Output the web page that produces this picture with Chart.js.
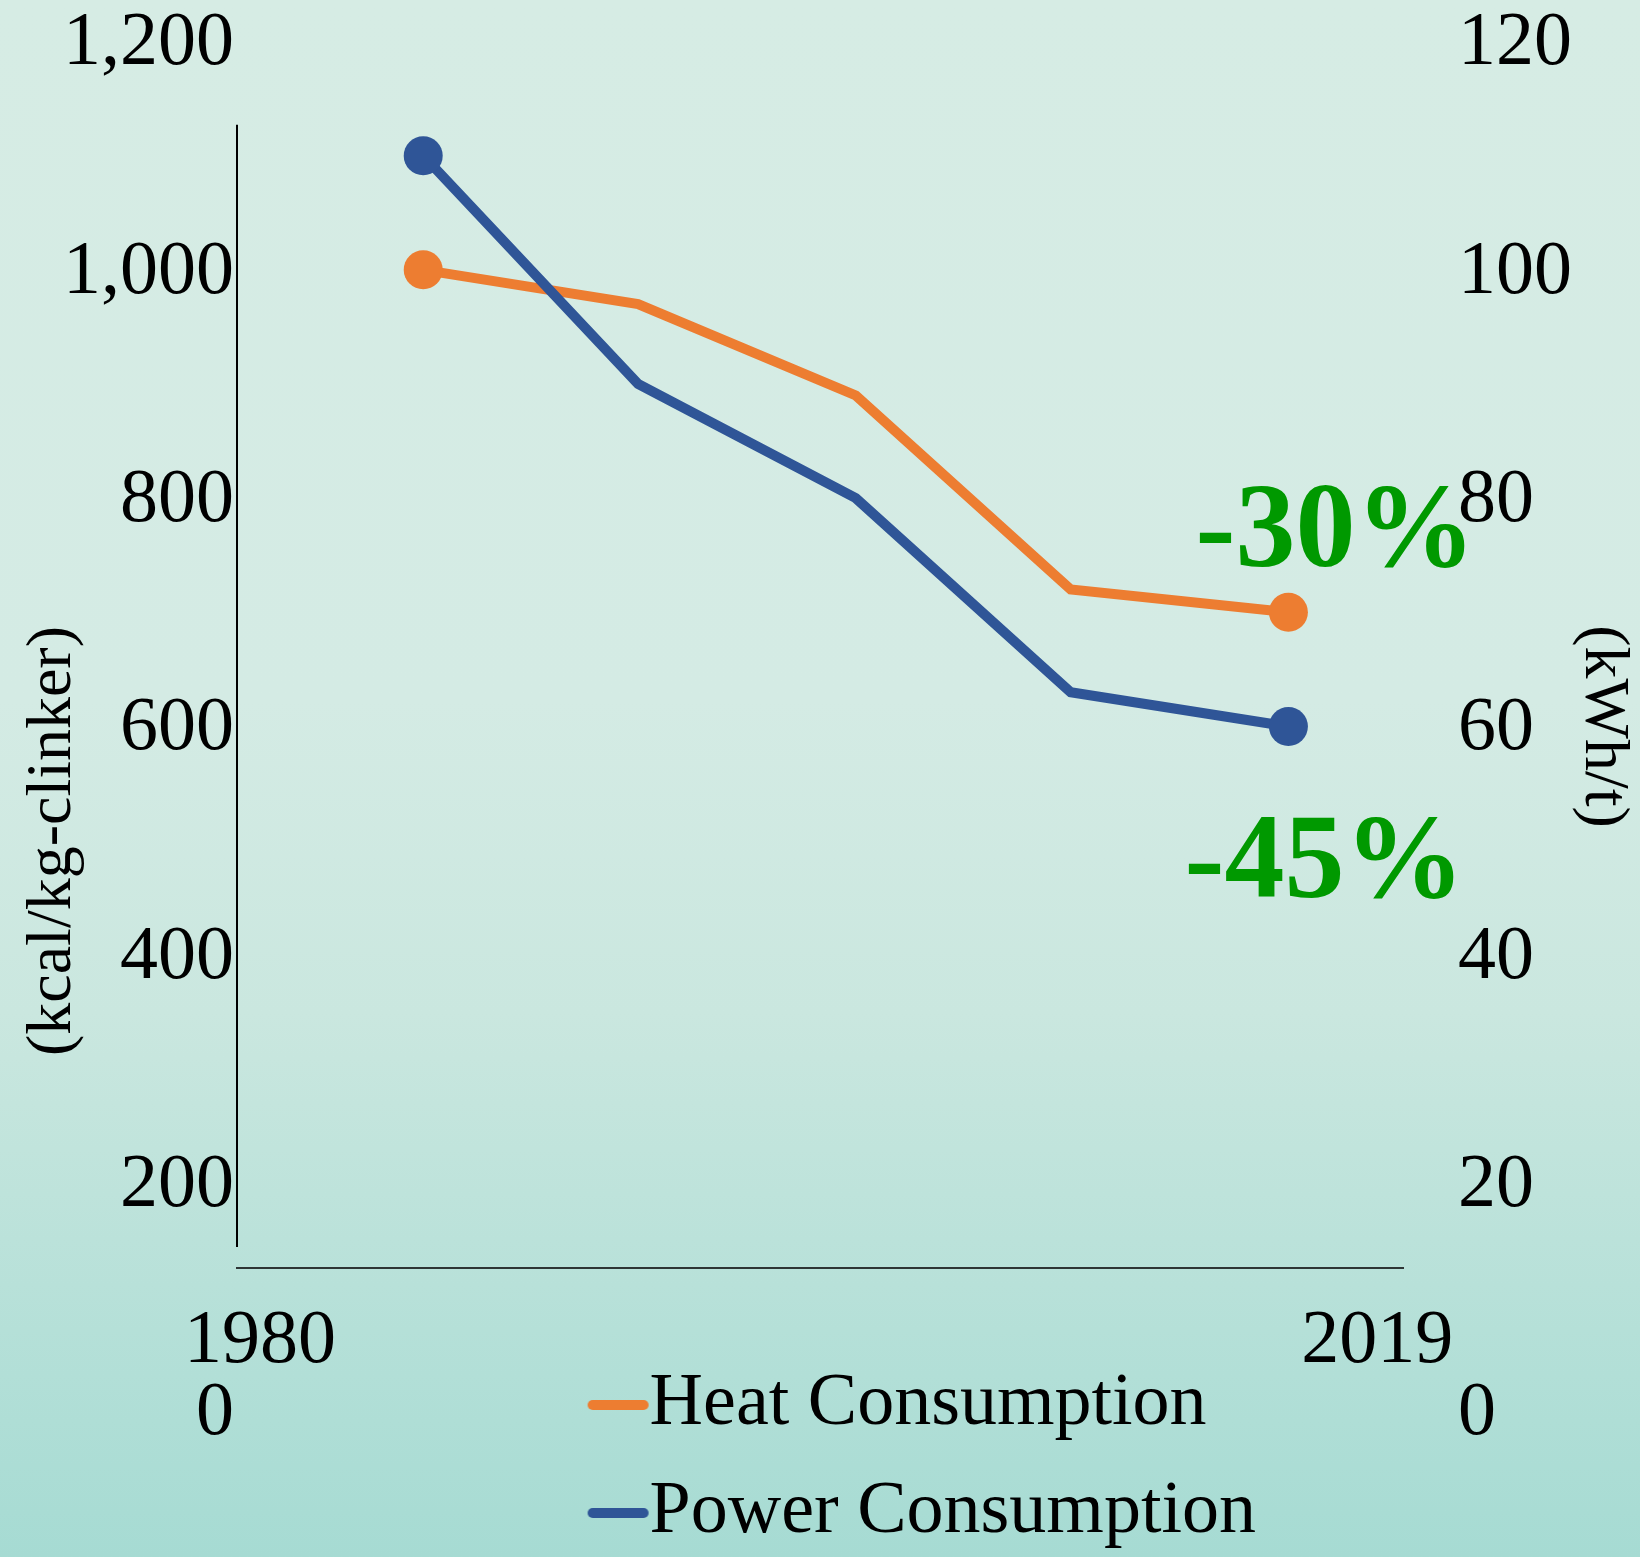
<!DOCTYPE html>
<html>
<head>
<meta charset="utf-8">
<script src="https://cdn.jsdelivr.net/npm/chart.js"></script>
<style>
  html, body { margin: 0; padding: 0; }
  body {
    width: 1640px;
    height: 1557px;
    overflow: hidden;
    background: linear-gradient(to bottom, #d6ece4 0%, #d4ebe4 45%, #cae7df 65%, #a6dbd3 100%);
  }
  #energy-chart { display: block; }
</style>
</head>
<body>
<canvas id="energy-chart" width="1640" height="1557"></canvas>
<script>
// x positions of the points (years) and the axis end labels
const years = [1985.7, 1993.2, 2000.8, 2008.3, 2015.9]
const yearTicks = [1980, 2019]

// heat consumption, kcal/kg-clinker (left axis)
const heatData = [1000, 970, 890, 720, 700]
// power consumption, kWh/t (right axis)
const powerData = [110, 90, 80, 63, 60]

// tick values for both y axes
const heatTicks = [0, 200, 400, 600, 800, 1000, 1200]
const powerTicks = [0, 20, 40, 60, 80, 100, 120]

const serif = '"Liberation Serif", "Times New Roman", serif'
const orange = '#ed7d31'
const blue = '#2f5597'
const green = '#009900'

// only the first and last point get a marker
function endMarker(ctx) {
  const n = ctx.dataset.data.length
  return (ctx.dataIndex === 0 || ctx.dataIndex === n - 1) ? 19.5 : 0
}

// short line used as legend symbol, drawn right up to the text
function legendLine(color) {
  const c = document.createElement('canvas')
  c.width = 140
  c.height = 24
  const g = c.getContext('2d')
  g.strokeStyle = color
  g.lineWidth = 10
  g.lineCap = 'round'
  g.beginPath()
  g.moveTo(80, 12)
  g.lineTo(131, 12)
  g.stroke()
  return c
}

function change(data) {
  const first = data[0]
  const last = data[data.length - 1]
  return Math.round((last - first) / first * 100) + '%'
}

// fixed axis width, and no extra room for the end labels
function fixWidth(s) {
  s.width = 237
  s.paddingTop = 0
  s.paddingBottom = 0
}

const extras = {
  id: 'extras',
  afterLayout(chart) {
    // put the legend under the plot, two rows
    const lg = chart.legend
    lg.left = 518.6
    lg.top = 1334
    lg.right = 1640
    lg.bottom = 1600
  },
  beforeDatasetsDraw(chart) {
    const ctx = chart.ctx
    const y = chart.scales.y
    // the short vertical axis line
    ctx.save()
    ctx.strokeStyle = '#000'
    ctx.lineWidth = 2
    ctx.beginPath()
    ctx.moveTo(chart.chartArea.left, y.getPixelForValue(1127))
    ctx.lineTo(chart.chartArea.left, y.getPixelForValue(144))
    ctx.stroke()
    ctx.restore()
  },
  afterDatasetsDraw(chart) {
    const ctx = chart.ctx
    ctx.save()
    // left axis title
    ctx.font = '64px ' + serif
    ctx.fillStyle = '#000'
    ctx.textAlign = 'center'
    ctx.textBaseline = 'middle'
    ctx.translate(53, 841)
    ctx.rotate(-Math.PI / 2)
    ctx.fillText('(kcal/kg-clinker)', 0, 0)
    ctx.restore()

    // reduction labels next to the last points
    const heatMeta = chart.getDatasetMeta(0)
    const powerMeta = chart.getDatasetMeta(1)
    const heatEnd = heatMeta.data[heatMeta.data.length - 1]
    const powerEnd = powerMeta.data[powerMeta.data.length - 1]
    ctx.save()
    ctx.font = 'bold 120px ' + serif
    ctx.fillStyle = green
    ctx.textAlign = 'center'
    ctx.textBaseline = 'alphabetic'
    ctx.fillText(change(heatData), heatEnd.x + 47, heatEnd.y - 46)
    ctx.fillText(change(powerData), powerEnd.x + 36, powerEnd.y + 170)
    ctx.restore()
  }
}

new Chart(document.getElementById('energy-chart'), {
  type: 'line',
  data: {
    datasets: [{
      label: 'Heat Consumption',
      data: years.map((x, i) => ({ x: x, y: heatData[i] })),
      yAxisID: 'y',
      order: 1,
      borderColor: orange,
      backgroundColor: orange,
      borderWidth: 10,
      pointRadius: endMarker,
      pointBorderWidth: 0,
      pointBackgroundColor: orange,
      tension: 0,
      fill: false
    }, {
      label: 'Power Consumption',
      data: years.map((x, i) => ({ x: x, y: powerData[i] })),
      yAxisID: 'y1',
      order: 0,
      borderColor: blue,
      backgroundColor: blue,
      borderWidth: 10,
      pointRadius: endMarker,
      pointBorderWidth: 0,
      pointBackgroundColor: blue,
      tension: 0,
      fill: false
    }]
  },
  options: {
    responsive: false,
    devicePixelRatio: 1,
    animation: false,
    events: [],
    layout: { autoPadding: false, padding: { top: 41.5, bottom: 145.5, left: 0, right: 0 } },
    scales: {
      x: {
        type: 'linear',
        min: 1979.2,
        max: 2019.9,
        position: { y: 126 },
        afterBuildTicks: s => { s.ticks = yearTicks.map(v => ({ value: v })) },
        afterFit: s => { s.height = 0 },
        grid: { display: false, drawTicks: false },
        border: { display: true, color: '#2e3535', width: 2 },
        ticks: {
          padding: 29,
          color: '#000',
          font: { family: serif, size: 76 },
          maxRotation: 0,
          autoSkip: false,
          callback: v => String(v)
        }
      },
      y: {
        position: 'left',
        min: 0,
        max: 1200,
        afterBuildTicks: s => { s.ticks = heatTicks.map(v => ({ value: v })) },
        afterFit: fixWidth,
        grid: { display: false, drawTicks: false },
        border: { display: false },
        ticks: {
          padding: 3,
          labelOffset: 3,
          color: '#000',
          font: { family: serif, size: 76, lineHeight: 1 },
          callback: v => v.toLocaleString('en-US')
        }
      },
      y1: {
        position: 'right',
        min: 0,
        max: 120,
        afterBuildTicks: s => { s.ticks = powerTicks.map(v => ({ value: v })) },
        afterFit: fixWidth,
        grid: { display: false, drawTicks: false },
        border: { display: false },
        ticks: {
          padding: 55,
          labelOffset: 3,
          color: '#000',
          font: { family: serif, size: 76, lineHeight: 1 },
          callback: v => String(v)
        },
        title: {
          display: true,
          text: '(kWh/t)',
          color: '#000',
          font: { family: serif, size: 64, lineHeight: 1.15 },
          padding: 0
        }
      }
    },
    plugins: {
      tooltip: { enabled: false },
      legend: {
        position: 'chartArea',
        align: 'start',
        labels: {
          color: '#000',
          font: { family: serif, size: 74 },
          padding: 34,
          usePointStyle: true,
          pointStyleWidth: 60,
          sort: (a, b) => a.datasetIndex - b.datasetIndex,
          generateLabels(chart) {
            const items = Chart.defaults.plugins.legend.labels.generateLabels(chart)
            items.forEach(it => { it.pointStyle = legendLine(it.strokeStyle) })
            return items
          }
        }
      }
    }
  },
  plugins: [extras]
});
</script>
</body>
</html>
